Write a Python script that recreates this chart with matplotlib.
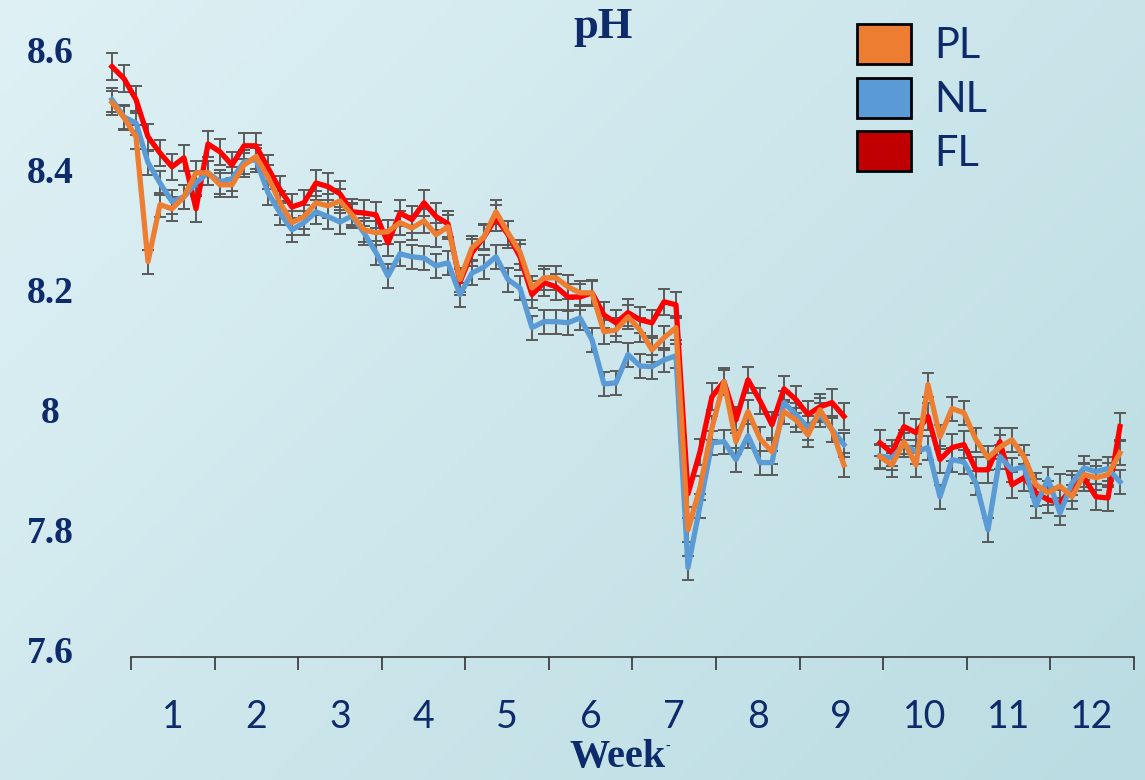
import numpy as np
import matplotlib
matplotlib.use('Agg')
import matplotlib.pyplot as plt
from matplotlib.patches import Patch

nan = np.nan

# ===== DONNÉES (pH journalier, 12 semaines) =====
pl_values = [8.512, 8.487, 8.455, 8.247, 8.342, 8.335, 8.355, 8.395, 8.395, 8.375,
             8.375, 8.408, 8.422, 8.388, 8.345, 8.312, 8.322, 8.345, 8.340, 8.348,
             8.325, 8.300, 8.295, 8.297, 8.312, 8.303, 8.315, 8.292, 8.305, 8.217,
             8.270, 8.288, 8.330, 8.295, 8.263, 8.203, 8.220, 8.220, 8.205, 8.195,
             8.195, 8.130, 8.133, 8.155, 8.133, 8.100, 8.120, 8.137, 7.800, 7.870,
             7.970, 8.047, 7.947, 7.997, 7.952, 7.930, 7.997, 7.983, 7.958, 8.000,
             7.967, 7.908, nan, nan, 7.922, 7.908, 7.947, 7.908, 8.042, 7.955,
             8.002, 7.995, 7.950, 7.920, 7.938, 7.950, 7.922, 7.875, 7.862, 7.873,
             7.855, 7.892, 7.887, 7.892, 7.928]

nl_values = [8.517, 8.488, 8.478, 8.412, 8.378, 8.347, 8.355, 8.378, 8.395, 8.380,
             8.385, 8.413, 8.417, 8.362, 8.328, 8.300, 8.312, 8.330, 8.322, 8.313,
             8.323, 8.295, 8.262, 8.223, 8.260, 8.255, 8.253, 8.240, 8.245, 8.192,
             8.228, 8.238, 8.255, 8.217, 8.203, 8.137, 8.147, 8.147, 8.145, 8.153,
             8.117, 8.043, 8.045, 8.092, 8.073, 8.072, 8.083, 8.090, 7.737, 7.840,
             7.945, 7.947, 7.917, 7.957, 7.912, 7.912, 8.012, 7.992, 7.970, 7.992,
             7.967, 7.942, nan, nan, 7.923, 7.920, 7.942, 7.930, 7.937, 7.855,
             7.917, 7.913, 7.878, 7.800, 7.922, 7.900, 7.905, 7.840, 7.885, 7.828,
             7.878, 7.903, 7.897, 7.902, 7.880]

fl_values = [8.572, 8.552, 8.517, 8.455, 8.428, 8.405, 8.420, 8.335, 8.443, 8.430,
             8.408, 8.440, 8.440, 8.403, 8.367, 8.338, 8.345, 8.378, 8.372, 8.360,
             8.330, 8.328, 8.325, 8.278, 8.328, 8.317, 8.345, 8.322, 8.310, 8.213,
             8.262, 8.288, 8.320, 8.292, 8.255, 8.192, 8.212, 8.205, 8.188, 8.188,
             8.195, 8.158, 8.145, 8.162, 8.150, 8.145, 8.180, 8.175, 7.860, 7.930,
             8.022, 8.047, 7.983, 8.050, 8.015, 7.975, 8.035, 8.017, 7.992, 8.005,
             8.012, 7.989, nan, nan, 7.945, 7.928, 7.972, 7.962, 7.989, 7.917,
             7.937, 7.942, 7.900, 7.900, 7.947, 7.875, 7.887, 7.862, 7.850, 7.845,
             7.870, 7.887, 7.855, 7.853, 7.972]

err_pl = 0.02
err_nl = 0.02
err_fl = 0.022

weeks = [str(w) for w in range(1, 13)]
y_ticks = [7.6, 7.8, 8.0, 8.2, 8.4, 8.6]
y_labels = ['7.6', '7.8', '8', '8.2', '8.4', '8.6']

navy = '#0d2a6a'
c_pl = '#ED7D31'
c_nl = '#5B9BD5'
c_fl = '#FF0000'
c_fl_leg = '#C00000'

days = np.arange(len(pl_values))

# ===== FIGURE =====
fig = plt.figure(figsize=(11.45, 7.8), dpi=100)

# fond dégradé
bg = fig.add_axes([0, 0, 1, 1], zorder=-10)
gx, gy = np.meshgrid(np.linspace(0, 1, 300), np.linspace(0, 1, 200))
t = (gx * 0.6 + gy * 0.4)
c0 = np.array([223, 241, 245]) / 255
c1 = np.array([186, 220, 226]) / 255
img = c0[None, None, :] * (1 - t[..., None]) + c1[None, None, :] * t[..., None]
bg.imshow(img, extent=[0, 1, 0, 1], aspect='auto', origin='upper')
bg.axis('off')

ax = fig.add_axes([100 / 1145, 123 / 780, 1040 / 1145, 627 / 780])
ax.patch.set_alpha(0)

for vals, err, col, z in [(fl_values, err_fl, c_fl, 3), (nl_values, err_nl, c_nl, 4),
                          (pl_values, err_pl, c_pl, 5)]:
    ax.errorbar(days, vals, yerr=err, fmt='none', ecolor='#5a5a5a', elinewidth=1.4,
                capsize=4.3, capthick=1.4, zorder=2)
    ax.plot(days, vals, color=col, lw=3.8, zorder=z, solid_joinstyle='round')

ax.set_xlim(-1, 85.67)
ax.set_ylim(7.588, 8.633)

# axe des x : graduations aux limites de semaine, étiquettes au centre
bounds = 1.583 + 6.965 * np.arange(13)
centers = bounds[:-1] + 6.965 / 2
ax.set_xticks(bounds)
ax.set_xticklabels([])
ax.set_xticks(centers, minor=True)
ax.set_xticklabels(weeks, minor=True, fontsize=27, color=navy, family='Lato')
ax.tick_params(axis='x', which='major', length=9, width=1.2, color='#333333', direction='out')
ax.tick_params(axis='x', which='minor', length=0, pad=30)

ax.set_yticks(y_ticks)
ax.set_yticklabels(y_labels, fontsize=27, color=navy, family='Liberation Serif',
                   fontweight='bold', ha='center')
ax.tick_params(axis='y', length=0, pad=36)

for s in ['left', 'top', 'right']:
    ax.spines[s].set_visible(False)
ax.spines['bottom'].set_bounds(bounds[0], bounds[-1])
ax.spines['bottom'].set_color('#333333')
ax.spines['bottom'].set_linewidth(1.2)

fig.text(603 / 1145, 1 - 27 / 780, 'pH', ha='center', va='center', fontsize=32,
         fontweight='bold', family='Liberation Serif', color=navy)
fig.text(617 / 1145, 1 - 757 / 780, 'Week', ha='center', va='center', fontsize=29,
         fontweight='bold', family='Liberation Serif', color=navy)
fig.text(668 / 1145, 1 - 746 / 780, '-', ha='center', va='center', fontsize=10,
         family='Liberation Serif', color=navy)

handles = [Patch(facecolor=c_pl, edgecolor='black', lw=2, label='PL'),
           Patch(facecolor=c_nl, edgecolor='black', lw=2, label='NL'),
           Patch(facecolor=c_fl_leg, edgecolor='black', lw=2, label='FL')]
leg = fig.legend(handles=handles, loc='upper left', bbox_to_anchor=(857 / 1145, 1 - 24 / 780),
                 frameon=False, handlelength=1.3, handleheight=1.1,
                 handletextpad=0.55, labelspacing=0.3, borderpad=0, borderaxespad=0,
                 prop={'family': 'Lato', 'size': 30})
for txt in leg.get_texts():
    txt.set_color(navy)

plt.savefig('out.png', dpi=100)
